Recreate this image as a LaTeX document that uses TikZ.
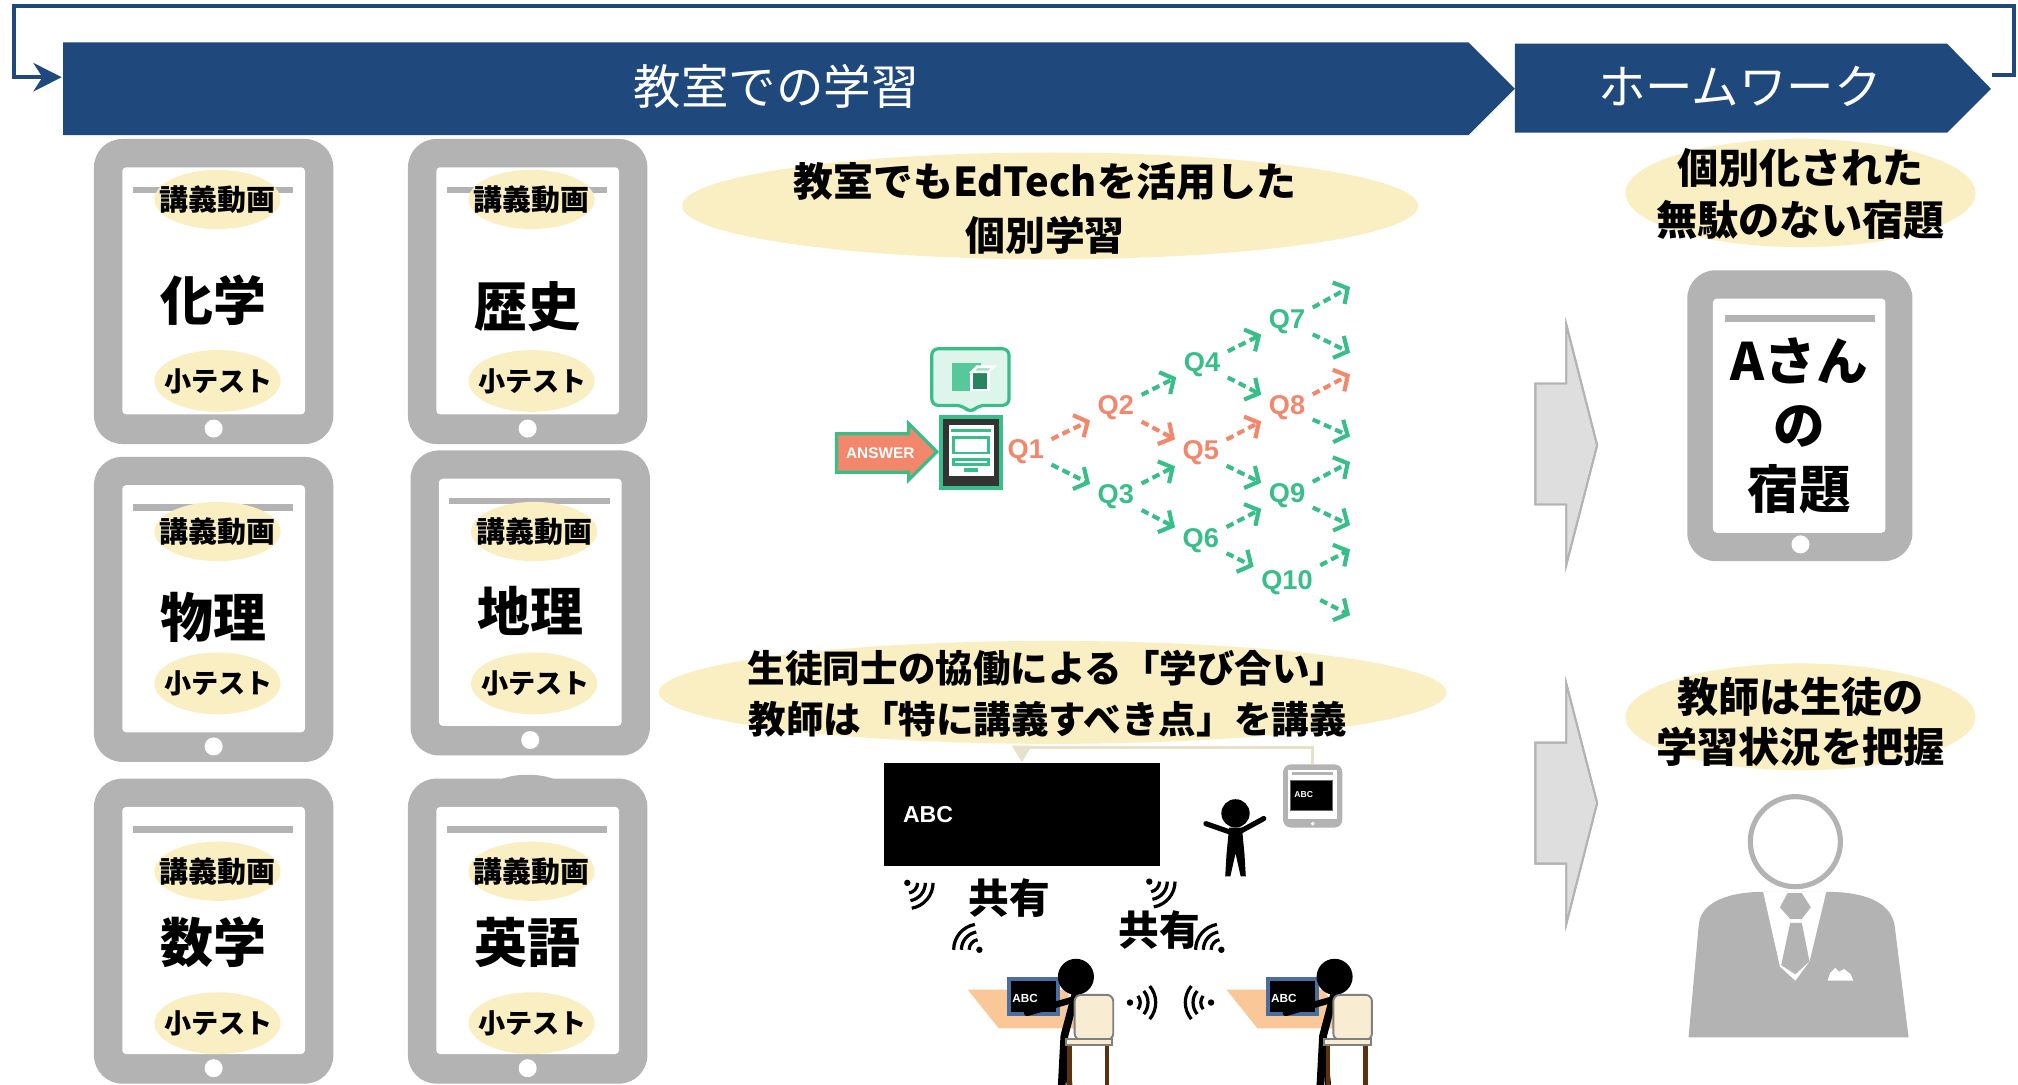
\documentclass[tikz,border=0pt]{standalone}
\usepackage{fontspec}
\setmainfont{Noto Sans CJK JP}
\newfontfamily\latfont{Liberation Sans}
\usepackage{tikz}
\usetikzlibrary{arrows.meta,positioning,shapes.geometric,calc}
\definecolor{navy}{HTML}{1F497D}
\definecolor{padgray}{HTML}{B3B3B3}
\definecolor{notefill}{HTML}{F9EFC2}
\definecolor{mint}{HTML}{38BE88}
\definecolor{mintsoft}{HTML}{DDF5EA}
\definecolor{coral}{HTML}{F2876C}
\definecolor{desk}{HTML}{FAC898}
\definecolor{seat}{HTML}{F8EDD3}
\definecolor{wood}{HTML}{5A3210}
\definecolor{screenblue}{HTML}{4A6E9E}
\definecolor{blockfill}{HTML}{DEDEDE}
\definecolor{linkbeige}{HTML}{E6E1C8}
\tikzset{
  banner/.style={fill=navy},
  bannertext/.style={text=white,font=\fontsize{10.5pt}{12pt}\selectfont},
  fbline/.style={draw=navy,line width=0.3mm},
  padframe/.style={fill=padgray,rounded corners=2.2mm},
  padscreen/.style={fill=white,rounded corners=0.3mm},
  notebg/.style={fill=notefill},
  tagtext/.style={font=\bfseries\fontsize{6.4pt}{7pt}\selectfont,inner sep=0pt},
  subject/.style={font=\bfseries\fontsize{11.7pt}{13pt}\selectfont,inner sep=0pt},
  qnode/.style={font=\latfont\bfseries\fontsize{6pt}{7pt}\selectfont,inner sep=1.5pt},
  qarr/.style={-{Straight Barb[length=0.8mm,width=1.9mm]},draw=mint,line width=0.32mm,
    dash pattern=on 0.6mm off 0.35mm},
  qpath/.style={qarr,draw=coral},
  blockarr/.style={fill=blockfill,draw=padgray,line width=0.15mm},
  link/.style={draw=linkbeige,line width=0.25mm,-{Triangle[length=1.3mm,width=1.5mm]}},
  wifi/.pic={
    \fill (0,0) circle (0.25mm);
    \foreach \r in {0.8,1.4,2.0}
      \draw[line width=0.25mm] (-40:\r mm) arc[start angle=-40,end angle=40,radius=\r mm];
  },
  student/.pic={
    \fill[desk] (0,0) -- (76,0) -- (92,30) -- (24,30) -- cycle;
    \node[draw=screenblue,line width=0.3mm,fill=black,minimum width=3.8mm,minimum height=2.7mm,inner sep=0] (-lap) at (51,5.5) {};
    \node[text=white,font=\latfont\bfseries\fontsize{2.6pt}{3pt}\selectfont,anchor=west,inner sep=0] (-abc) at (34,7) {ABC};
    \draw[line width=0.6mm,line cap=round,line join=round] (84,2) -- (75,36) -- (73,74);
    \draw[line width=0.5mm,line cap=round] (81,8) -- (46,18);
    \draw[line width=0.45mm] (75,36) -- (79,74);
    \fill (84,-10) circle (1.4mm);
    \draw[draw=black!50,fill=seat,rounded corners=0.5mm,line width=0.15mm] (83,4) rectangle (113,39);
    \draw[wood,line width=0.35mm] (79,43) -- (79,76) (108,43) -- (108,76);
    \draw[draw=black!50,fill=seat,line width=0.15mm] (76,38) rectangle (112,43);
  }
}

\begin{document}
\begin{tikzpicture}[x=0.1mm,y=-0.1mm]
  \useasboundingbox (0,0) rectangle (1568,843);
  \fill[white] (0,0) rectangle (1568,843);

  % phase banners and the loop back from homework to class
  \fill[banner] (49,33) -- (1141,33) -- (1177,69) -- (1141,105) -- (49,105) -- cycle;
  \node[bannertext] (cls) at (603,67) {教室での学習};
  \fill[banner] (1177,34) -- (1513,34) -- (1547,69) -- (1513,103) -- (1177,103) -- cycle;
  \node[bannertext] (hw) at (1352,67) {ホームワーク};
  \coordinate (loopR) at (1548,58);
  \coordinate (loopL) at (48,60);
  \draw[fbline,-{Stealth[length=2.2mm,width=2.2mm,inset=0.7mm]}] (loopR) -- (1565,58) |- (11,5) |- (loopL);

  % subject tablets
  \fill[padgray] (410,611) ellipse (2.6mm and 0.9mm);
  \foreach \n/\x/\y/\lec/\sub/\quiz/\subj in {
      1/166/108/155/233/296/化学, 2/410/108/155/238/296/歴史,
      3/166/355/413/480/531/物理, 4/412/350/413/475/531/地理,
      5/166/605/677/732/795/数学, 6/410/605/677/732/795/英語}{
    \fill[padframe] (\x-93,\y) rectangle (\x+93,\y+237);
    \fill[padscreen] (\x-71,\y+22) rectangle (\x+71,\y+214);
    \fill[padgray] (\x-63,\y+37) rectangle (\x+62,\y+42);
    \fill[white] (\x,\y+225) circle (0.7mm);
    \fill[notebg] (\x+3,\lec) ellipse (4.9mm and 2.3mm);
    \node[tagtext] (lec\n) at (\x+3,\lec) {講義動画};
    \node[subject] (sub\n) at (\x,\sub) {\subj};
    \fill[notebg] (\x+3,\quiz) ellipse (4.9mm and 2.4mm);
    \node[tagtext,font=\bfseries\fontsize{6pt}{7pt}\selectfont] (quiz\n) at (\x+4,\quiz) {小テスト};
  }

  % adaptive question tree
  \fill[notebg] (816,160) ellipse (28.6mm and 4.15mm);
  \node[align=center,font=\bfseries\fontsize{8.8pt}{12pt}\selectfont] (ed) at (812,162) {教室でもEdTechを活用した\\個別学習};
  \draw[draw=mint,fill=mintsoft,line width=0.25mm,rounded corners=0.5mm]
    (724,271) -- (784,271) -- (784,315) -- (760,315) -- (754,321) -- (748,315) -- (724,315) -- cycle;
  \fill[mint!85] (740,282) rectangle (762,304);
  \draw[white,fill=mint!70!black,line width=0.2mm] (755,289) rectangle (768,303);
  \draw[white,fill=mint!50,line width=0.2mm] (755,289) -- (759,285) -- (772,285) -- (768,289) -- cycle;
  \draw[draw=mint,fill=coral,line width=0.25mm]
    (650,337) -- (706,337) -- (706,329) -- (728,351) -- (706,373) -- (706,367) -- (650,367) -- cycle;
  \node[text=white,font=\latfont\bfseries\fontsize{3.4pt}{4pt}\selectfont] (ans) at (684,352) {ANSWER};
  \node[draw=mint,fill=black!80,line width=0.3mm,minimum width=4.7mm,minimum height=5.5mm,inner sep=0] (dev) at (754.5,351.5) {};
  \fill[white] (737,330) rectangle (772,370);
  \fill[mint] (739,333) rectangle (770,336);
  \draw[mint,line width=0.2mm] (741,340) rectangle (768,352);
  \draw[mint,line width=0.2mm] (741,357) rectangle (768,361);
  \fill[mint] (749,364) rectangle (760,367);

  \node[qnode,text=coral] (q1) at (797,351) {Q1};
  \node[qnode,text=coral] (q2) at (867,317) {Q2};
  \node[qnode,text=mint] (q3) at (867,386) {Q3};
  \node[qnode,text=mint] (q4) at (934,283) {Q4};
  \node[qnode,text=coral] (q5) at (933,352) {Q5};
  \node[qnode,text=mint] (q6) at (933,420) {Q6};
  \node[qnode,text=mint] (q7) at (1000,250) {Q7};
  \node[qnode,text=coral] (q8) at (1000,317) {Q8};
  \node[qnode,text=mint] (q9) at (1000,385) {Q9};
  \node[qnode,text=mint] (q10) at (1000,453) {Q10};
  \coordinate (o1) at (1049,223); \coordinate (o2) at (1049,274);
  \coordinate (o3) at (1049,291); \coordinate (o4) at (1049,339);
  \coordinate (o5) at (1049,359); \coordinate (o6) at (1049,408);
  \coordinate (o7) at (1049,427); \coordinate (o8) at (1049,478);
  \foreach \a/\b in {q1/q3,q2/q4,q3/q5,q3/q6,q4/q7,q4/q8,q5/q9,q6/q9,q6/q10,
      q7/o1,q7/o2,q8/o4,q9/o5,q9/o6,q10/o7,q10/o8}
    \draw[qarr] (\a) -- (\b);
  \foreach \a/\b in {q1/q2,q2/q5,q5/q8,q8/o3}
    \draw[qpath] (\a) -- (\b);

  % classroom scene
  \fill[notebg] (818,538) ellipse (30.6mm and 4.0mm);
  \node[align=center,font=\bfseries\fontsize{8.3pt}{11.4pt}\selectfont] (peer) at (814,539) {生徒同士の協働による「学び合い」\\教師は「特に講義すべき点」を講義};
  \node[fill=black,minimum width=21.4mm,minimum height=8mm,inner sep=0] (board) at (794,633) {};
  \node[text=white,font=\latfont\bfseries\fontsize{5.1pt}{6pt}\selectfont,anchor=west,inner sep=0] (boardtxt) at (701,633) {ABC};
  \node[padframe,rounded corners=0.6mm,minimum width=4.6mm,minimum height=4.9mm,inner sep=0] (pad) at (1020,618.5) {};
  \fill[white] (1001,598) rectangle (1039,636);
  \fill[padgray] (1004,600) rectangle (1036,602);
  \node[fill=black,draw=black!60,line width=0.1mm,minimum width=3.3mm,minimum height=2.3mm,inner sep=0] (padscr) at (1019,618) {};
  \node[text=white,font=\latfont\bfseries\fontsize{1.9pt}{2pt}\selectfont,inner sep=0] (padtxt) at (1013,617) {ABC};
  \fill[white] (1020,640) circle (0.15mm);
  \coordinate (bend) at (794,581);
  \draw[link] (pad.north) |- (bend) -- (board.north);

  % teacher at the board
  \fill (960,632) circle (1.1mm);
  \draw[line width=0.4mm,line cap=round,line join=round] (937,640) -- (960,648) -- (982,636);
  \fill (955,643) -- (965,643) -- (967,664) -- (968,681) -- (964,681) -- (960,663)
    -- (956,681) -- (952,681) -- (953,664) -- cycle;

  \pic (s1) at (752,769) {student};
  \pic (s2) at (953,769) {student};
  \pic[rotate=-40] at (705,686) {wifi};
  \pic[rotate=140] at (761,738) {wifi};
  \pic[rotate=-40] at (893,685) {wifi};
  \pic[rotate=140] at (949,738) {wifi};
  \pic at (878,779) {wifi};
  \pic[rotate=180] at (941,779) {wifi};
  \node[font=\bfseries\fontsize{9pt}{10pt}\selectfont] (share1) at (784,698) {共有};
  \node[font=\bfseries\fontsize{9pt}{10pt}\selectfont] (share2) at (901,723) {共有};

  % homework side
  \fill[blockarr] (1193,298) -- (1217,298) -- (1217,252) -- (1241,346) -- (1217,439) -- (1217,392) -- (1193,392) -- cycle;
  \fill[blockarr] (1193,577) -- (1217,577) -- (1217,531) -- (1241,624) -- (1217,718) -- (1217,671) -- (1193,671) -- cycle;
  \draw[blockarr,fill=none] (1193,298) -- (1217,298) -- (1217,252) -- (1241,346) -- (1217,439) -- (1217,392) -- (1193,392) -- cycle;
  \draw[blockarr,fill=none] (1193,577) -- (1217,577) -- (1217,531) -- (1241,624) -- (1217,718) -- (1217,671) -- (1193,671) -- cycle;

  \fill[notebg] (1399,150) ellipse (13.6mm and 4.2mm);
  \node[align=center,font=\bfseries\fontsize{9.1pt}{11.4pt}\selectfont] (hwnote) at (1399,151) {個別化された\\無駄のない宿題};
  \fill[padframe] (1311,210) rectangle (1486,436);
  \fill[padscreen] (1331,232) rectangle (1465,414);
  \fill[padgray] (1340,245) rectangle (1457,250);
  \fill[white] (1399,423) circle (0.7mm);
  \node[align=center,font=\bfseries\fontsize{11.4pt}{14.2pt}\selectfont] (own) at (1398,331) {Aさん\\の\\宿題};

  \fill[notebg] (1399,557) ellipse (13.6mm and 4.15mm);
  \node[align=center,font=\bfseries\fontsize{9.1pt}{11.1pt}\selectfont] (watch) at (1399,561) {教師は生徒の\\学習状況を把握};
  \draw[padgray,line width=0.4mm,fill=white] (1395,654) circle (3.5mm);
  \fill[padgray] (1312,806) -- (1320,718) .. controls (1322,700) and (1345,693) .. (1370,693)
    -- (1420,693) .. controls (1447,693) and (1468,700) .. (1472,718) -- (1483,806) -- cycle;
  \fill[white] (1370,693) -- (1419,693) -- (1406,747) -- (1395,762) -- (1383,751) -- cycle;
  \fill[padgray] (1389,694) -- (1400,694) -- (1407,705) -- (1400,714) -- (1391,714) -- (1383,705) -- cycle;
  \fill[padgray] (1391,717) -- (1400,717) -- (1406,747) -- (1395,757) -- (1384,750) -- cycle;
  \fill[white] (1420,762) -- (1422,756) -- (1426,752) -- (1429,755) -- (1433,753) -- (1438,757) -- (1440,762) -- cycle;
\end{tikzpicture}
\end{document}
